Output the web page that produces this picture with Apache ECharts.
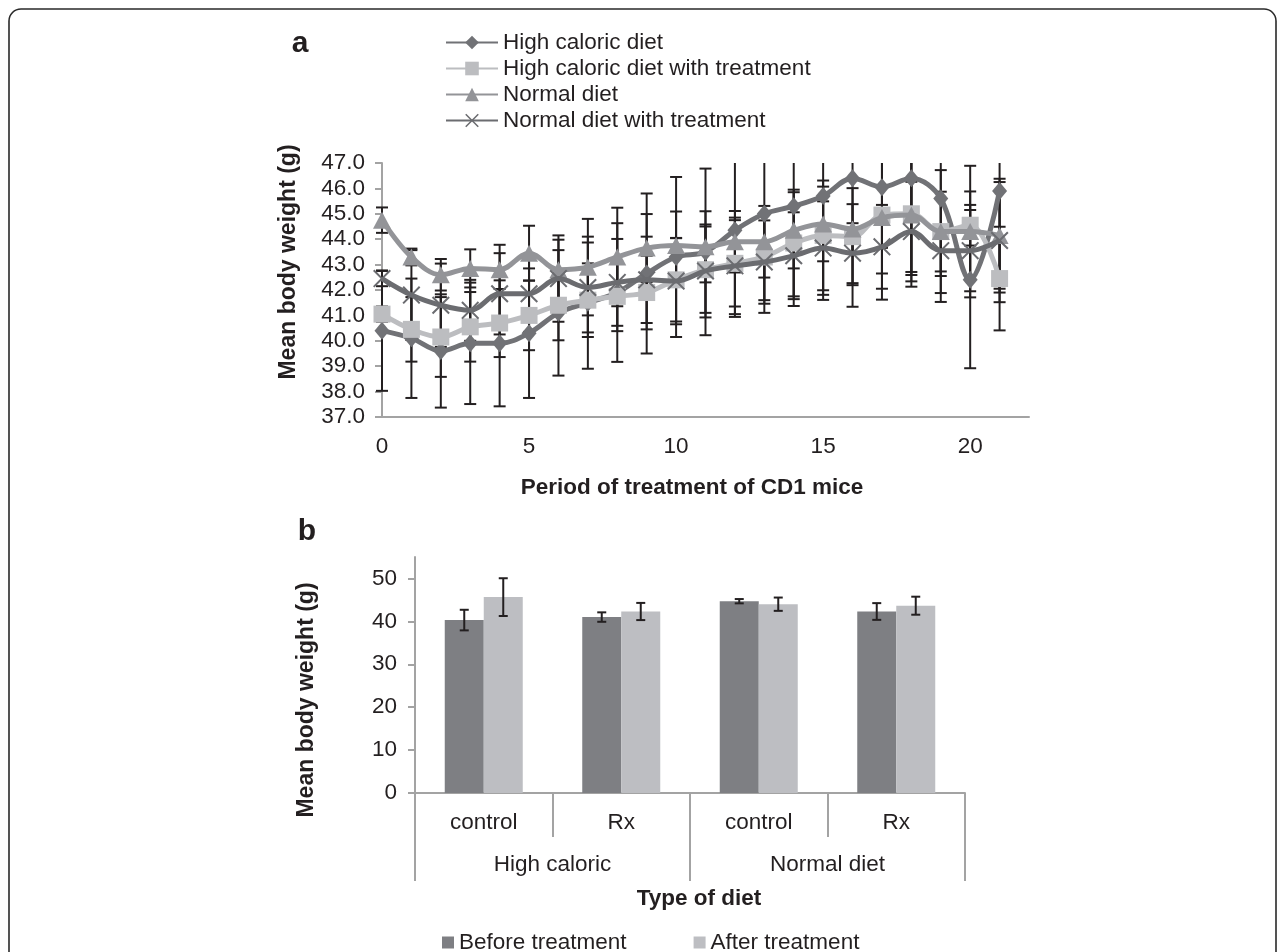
<!DOCTYPE html>
<html><head><meta charset="utf-8">
<script src="https://cdn.jsdelivr.net/npm/echarts@6/dist/echarts.min.js"></script>
<style>html,body{margin:0;padding:0;background:#fff}#c{width:1284px;height:952px}</style>
</head><body><div id="c"></div>
<script>
// ---------- Data: panel a ----------
const days = [0,1,2,3,4,5,6,7,8,9,10,11,12,13,14,15,16,17,18,19,20,21];
const lineNames = ['High caloric diet','High caloric diet with treatment','Normal diet','Normal diet with treatment'];
const hcMean  = [40.4,40.1,39.6,39.9,39.9,40.3,41.1,41.5,41.9,42.65,43.3,43.5,44.35,45.0,45.3,45.7,46.4,46.05,46.4,45.6,42.4,45.9];
const hcErr   = [2.37,2.35,2.23,2.39,2.48,2.55,2.47,2.6,2.73,3.15,3.15,3.28,3.41,3.9,3.93,4.09,5.06,4.43,4.27,4.07,3.48,4.0];
const hctMean = [41.05,40.45,40.15,40.55,40.7,41.0,41.4,41.6,41.75,41.9,42.4,42.8,43.05,43.3,43.85,44.15,44.1,44.95,45.0,44.3,44.55,42.45];
const hctErr  = [0.3,1.27,1.57,1.37,1.34,1.37,1.38,1.45,1.37,1.45,1.64,1.7,1.7,1.7,2.1,2.16,1.91,2.3,2.29,1.57,0.8,2.04];
const ndMean  = [44.75,43.3,42.6,42.85,42.8,43.45,42.8,42.9,43.3,43.65,43.75,43.7,43.9,43.9,44.35,44.6,44.4,44.85,44.95,44.3,44.3,44.15];
const ndErr   = [0.5,0.33,0.62,0.75,0.98,1.08,1.18,1.9,1.94,1.34,1.34,1.4,1.21,1.41,1.5,1.47,0.98,1.19,2.36,2.42,2.59,2.1];
const ndtMean = [42.45,41.8,41.4,41.2,41.85,41.85,42.45,42.1,42.3,42.4,42.35,42.75,42.95,43.1,43.35,43.65,43.45,43.7,44.3,43.55,43.55,43.95];
const ndtErr  = [0.3,1.77,1.64,1.2,1.6,1.5,1.7,1.77,1.71,1.7,1.7,1.83,1.9,1.64,1.71,1.84,1.18,1.65,1.96,1.0,1.6,2.43];
const yTicksA = [37,38,39,40,41,42,43,44,45,46,47];
const xTicksA = [0,5,10,15,20];

// ---------- Data: panel b ----------
const barCats   = ['control','Rx','control','Rx'];
const barGroups = ['High caloric','Normal diet'];
const barNames  = ['Before treatment','After treatment'];
const beforeMean = [40.3,41.0,44.7,42.3];
const beforeErr  = [2.4,1.1,0.5,1.95];
const afterMean  = [45.65,42.3,44.0,43.65];
const afterErr   = [4.4,2.0,1.55,2.1];
const yTicksB = [0,10,20,30,40,50];

// ---------- Styles ----------
const FONT = "'Liberation Sans', Arial, Helvetica, sans-serif";
const TXT = '#231f20';
const AXIS = '#a3a3a3';
const ERR = '#231f20';
const lineColors = ['#717276','#bcbdc0','#939498','#6b6c70'];
const barColors = ['#7e7f83','#bdbec2'];
const xSymbol = 'path://M0,1.6 L1.6,0 L10,8.4 L18.4,0 L20,1.6 L11.6,10 L20,18.4 L18.4,20 L10,11.6 L1.6,20 L0,18.4 L8.4,10 Z';
const symbols = ['diamond','rect','triangle',xSymbol];
const symbolSizes = [[15,18],17,[18,17],18];

function errRender(capHalf, dx) {
  return function (params, api) {
    const x = api.value(0), lo = api.value(1), hi = api.value(2);
    const cs = params.coordSys;
    const pLo = api.coord([x, lo]);
    const pHi = api.coord([x, hi]);
    const cx = pLo[0] + dx;
    const topY = Math.max(pHi[1], cs.y);
    const botY = Math.min(pLo[1], cs.y + cs.height);
    const st = {stroke: ERR, lineWidth: 2};
    const kids = [{type:'line', shape:{x1:cx,y1:topY,x2:cx,y2:botY}, style:st}];
    if (pHi[1] >= cs.y - 0.5) kids.push({type:'line', shape:{x1:cx-capHalf,y1:pHi[1],x2:cx+capHalf,y2:pHi[1]}, style:st});
    if (pLo[1] <= cs.y + cs.height + 0.5) kids.push({type:'line', shape:{x1:cx-capHalf,y1:pLo[1],x2:cx+capHalf,y2:pLo[1]}, style:st});
    return {type:'group', children:kids};
  };
}

const means = [hcMean, hctMean, ndMean, ndtMean];
const errs = [hcErr, hctErr, ndErr, ndtErr];

const series = [];
means.forEach((m, k) => {
  series.push({
    type:'custom', name:'err'+k, xAxisIndex:0, yAxisIndex:0, z:1, silent:true,
    renderItem: errRender(6, 0),
    data: days.map((d,i) => [d, m[i]-errs[k][i], m[i]+errs[k][i]])
  });
});
means.forEach((m, k) => {
  series.push({
    type:'line', name: lineNames[k], xAxisIndex:0, yAxisIndex:0, z:2 + k,
    smooth: 0.35, showAllSymbol: true,
    symbol: symbols[k], symbolSize: symbolSizes[k],
    lineStyle: {color: lineColors[k], width: 5},
    itemStyle: {color: lineColors[k]},
    emphasis: {disabled: true},
    data: days.map((d,i) => [d, m[i]])
  });
});
series.push({
  type:'bar', name: barNames[0], xAxisIndex:1, yAxisIndex:1, barWidth:39, barGap:'0%',
  itemStyle:{color: barColors[0]}, emphasis:{disabled:true}, data: beforeMean
});
series.push({
  type:'bar', name: barNames[1], xAxisIndex:1, yAxisIndex:1, barWidth:39, barGap:'0%',
  itemStyle:{color: barColors[1]}, emphasis:{disabled:true}, data: afterMean
});
series.push({
  type:'custom', name:'errB0', xAxisIndex:1, yAxisIndex:1, z:5, silent:true,
  renderItem: errRender(4.5, -19.5),
  data: beforeMean.map((v,i) => [i, v-beforeErr[i], v+beforeErr[i]])
});
series.push({
  type:'custom', name:'errB1', xAxisIndex:1, yAxisIndex:1, z:5, silent:true,
  renderItem: errRender(4.5, 19.5),
  data: afterMean.map((v,i) => [i, v-afterErr[i], v+afterErr[i]])
});

const labelStyle = {color: TXT, fontSize: 22.5, fontFamily: FONT};
const boldText = (txt, x, y, size, rot) => ({
  type:'text', x:x, y:y, rotation: rot || 0,
  style:{text: txt, fill: TXT, fontSize: size, fontWeight:'bold', fontFamily: FONT, align:'center', verticalAlign:'middle'}
});

const option = {
  animation: false,
  backgroundColor: '#fff',
  textStyle: {fontFamily: FONT, color: TXT},
  grid: [
    {left: 382, top: 163, width: 647, height: 254},
    {left: 415, top: 557, width: 550, height: 236}
  ],
  xAxis: [
    {type:'value', gridIndex:0, min:0, max:22, interval:5,
     axisLine:{show:true, lineStyle:{color:AXIS, width:2}},
     axisTick:{show:false}, splitLine:{show:false},
     axisLabel: Object.assign({margin:18, formatter: v => (xTicksA.indexOf(v) >= 0 ? String(v) : '')}, labelStyle)},
    {type:'category', gridIndex:1, data: barCats, position:'bottom',
     axisLine:{show:true, lineStyle:{color:AXIS, width:2}},
     axisTick:{show:true, interval:0, length:44, lineStyle:{color:AXIS, width:2}},
     axisLabel: Object.assign({interval:0, margin:18}, labelStyle)},
    {type:'category', gridIndex:1, data: barGroups, position:'bottom',
     axisLine:{show:false},
     axisTick:{show:true, interval:0, length:88, lineStyle:{color:AXIS, width:2}},
     axisLabel: Object.assign({interval:0, margin:60}, labelStyle)}
  ],
  yAxis: [
    {type:'value', gridIndex:0, min:37, max:47, interval:1,
     axisLine:{show:true, lineStyle:{color:AXIS, width:2}},
     axisTick:{show:true, length:7, lineStyle:{color:AXIS, width:2}},
     splitLine:{show:false},
     axisLabel: Object.assign({margin:17, formatter: v => (yTicksA.indexOf(v) >= 0 ? v.toFixed(1) : '')}, labelStyle)},
    {type:'value', gridIndex:1, min:0, max:55, interval:10,
     axisLine:{show:true, lineStyle:{color:AXIS, width:2}},
     axisTick:{show:true, length:7, customValues: yTicksB, lineStyle:{color:AXIS, width:2}},
     splitLine:{show:false},
     axisLabel: Object.assign({margin:18, customValues: yTicksB, formatter: v => (yTicksB.indexOf(v) >= 0 ? String(v) : '')}, labelStyle)}
  ],
  legend: [
    {data: lineNames, orient:'vertical', left:445, top:31, padding:0,
     itemWidth:52, itemHeight:17, itemGap:3, selectedMode:false,
     textStyle:{color:TXT, fontSize:22.5, fontFamily:FONT, lineHeight:22}},
    {data: barNames, orient:'horizontal', left:442, top:931, padding:0,
     itemWidth:12, itemHeight:12, itemGap:67, icon:'rect', selectedMode:false,
     textStyle:{color:TXT, fontSize:22.5, fontFamily:FONT, lineHeight:22}}
  ],
  graphic: [
    {type:'rect', shape:{x:9, y:9, width:1267, height:980, r:12}, style:{fill:'none', stroke:'#2a2a2a', lineWidth:1.6}, silent:true},
    boldText('a', 300, 44, 30),
    boldText('b', 307, 532, 30),
    boldText('Mean body weight (g)', 289, 262, 23, Math.PI/2),
    boldText('Period of treatment of CD1 mice', 692, 488, 22.5),
    boldText('Mean body weight (g)', 307, 700, 23, Math.PI/2),
    boldText('Type of diet', 699, 899, 22.5)
  ],
  series: series
};

const chart = echarts.init(document.getElementById('c'), null, {renderer:'canvas'});
chart.setOption(option);
</script>
</body></html>
